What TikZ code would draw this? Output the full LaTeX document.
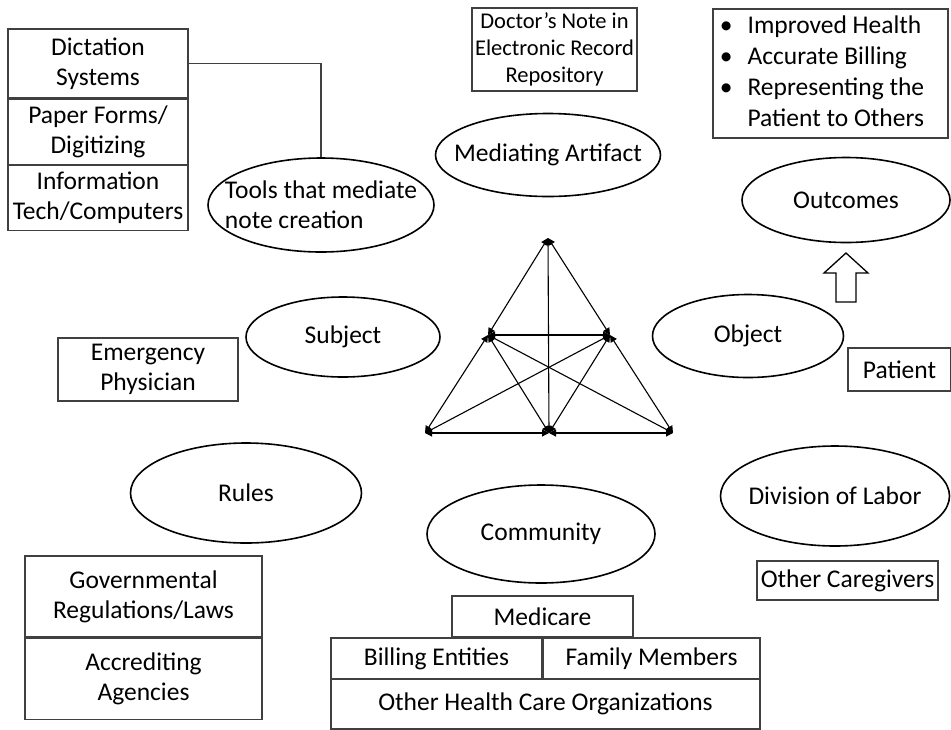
\documentclass[tikz,border=0pt]{standalone}
\usepackage{fontspec}
\setmainfont{Carlito}
\usetikzlibrary{positioning,shapes.geometric,arrows.meta}

\tikzset{
  oval/.style={draw, ellipse, line width=1.6pt, inner xsep=-25pt, inner ysep=0pt},
  tbox/.style={draw=black!75, line width=1.2pt, rectangle, inner sep=0pt, align=center},
  link/.style={<->, >={Triangle[length=7pt,width=7pt]}, line width=1.1pt},
}

\begin{document}
\begin{tikzpicture}[x=1pt,y=-1pt, font=\fontsize{25.5}{30}\selectfont]
  \useasboundingbox (0,0) rectangle (951,729);

  % Activity ovals
  \node[oval, minimum width=226pt, minimum height=94pt, align=left] (tools) at (321,205) {Tools that mediate\\note creation};
  \node[oval, minimum width=225pt, minimum height=83pt] (artifact) at (548,155) {Mediating Artifact};
  \node[oval, minimum width=208pt, minimum height=85pt] (outcomes) at (846,200) {Outcomes};
  \node[oval, minimum width=194pt, minimum height=80pt] (subject) at (343,337) {Subject};
  \node[oval, minimum width=191pt, minimum height=83pt] (object) at (748,336) {Object};
  \node[oval, minimum width=231pt, minimum height=100pt] (rules) at (246,493) {Rules};
  \node[oval, minimum width=228pt, minimum height=98pt] (community) at (541,534) {Community};
  \node[oval, minimum width=229pt, minimum height=100pt] (labor) at (835,496) {Division of Labor};

  % Tools boxes
  \node[tbox, minimum width=180pt, minimum height=69pt] (dict) at (98,63.5) {Dictation\\Systems};
  \node[tbox, minimum width=180pt, minimum height=65pt, below=0pt of dict] (paper) {Paper Forms/\\Digitizing};
  \node[tbox, minimum width=180pt, minimum height=65pt, below=0pt of paper] (infotech) {Information\\Tech/Computers};
  \draw[draw=black!75, line width=1.2pt] (dict.east) -| (tools.north);

  % Artifact and outcomes boxes
  \node[tbox, minimum width=165pt, minimum height=83pt, font=\fontsize{22.5}{27}\selectfont] (note) at (554.5,49.5) {Doctor's Note in\\Electronic Record\\Repository};
  \node[tbox, minimum width=235pt, minimum height=129pt, font=\fontsize{25.5}{31}\selectfont] (results) at (830.5,73.5) {%
    \begin{tabular}{@{}l@{\hspace{15pt}}l@{}}
      \textbullet & Improved Health\\
      \textbullet & Accurate Billing\\
      \textbullet & Representing the\\
                  & Patient to Others
    \end{tabular}\hspace*{17pt}};
  \draw[line width=1.3pt] (846,253) -- (868,273) -- (856,273) -- (856,302)
    -- (836,302) -- (836,273) -- (824,273) -- cycle;

  % Subject and object boxes
  \node[tbox, minimum width=180pt, minimum height=63pt] (physician) at (148,369.5) {Emergency\\Physician};
  \node[tbox, minimum width=103pt, minimum height=43pt] (patient) at (899.5,369.5) {Patient};
  \node[tbox, minimum width=181pt, minimum height=39pt] (caregivers) at (847.5,580.5) {Other Caregivers};

  % Rules boxes
  \node[tbox, minimum width=237pt, minimum height=81pt] (laws) at (143.5,596.5) {Governmental\\Regulations/Laws};
  \node[tbox, minimum width=237pt, minimum height=81pt, below=0pt of laws] (agencies) {Accrediting\\Agencies};

  % Community boxes
  \node[tbox, minimum width=181pt, minimum height=41pt] (medicare) at (542.5,616.5) {Medicare};
  \node[tbox, minimum width=211pt, minimum height=41pt] (billing) at (436.5,658.5) {Billing Entities};
  \node[tbox, minimum width=217pt, minimum height=41pt] (family) at (651.5,658.5) {Family Members};
  \node[tbox, minimum width=429pt, minimum height=50pt] (others) at (545.5,704) {Other Health Care Organizations};

  % Triangle
  \coordinate (ta) at (548,238);
  \coordinate (tl) at (488,335);
  \coordinate (tr) at (610,335);
  \coordinate (bl) at (425,433);
  \coordinate (bm) at (549,433);
  \coordinate (br) at (673,433);
  \draw[link] (ta) -- (tl);
  \draw[link] (ta) -- (tr);
  \draw[link] (ta) -- (bm);
  \draw[link] (tl) -- (tr);
  \draw[link] (tl) -- (bl);
  \draw[link] (tr) -- (br);
  \draw[link] (bl) -- (bm);
  \draw[link] (bm) -- (br);
  \draw[link] (tl) -- (bm);
  \draw[link] (tl) -- (br);
  \draw[link] (tr) -- (bl);
  \draw[link] (tr) -- (bm);
\end{tikzpicture}
\end{document}
